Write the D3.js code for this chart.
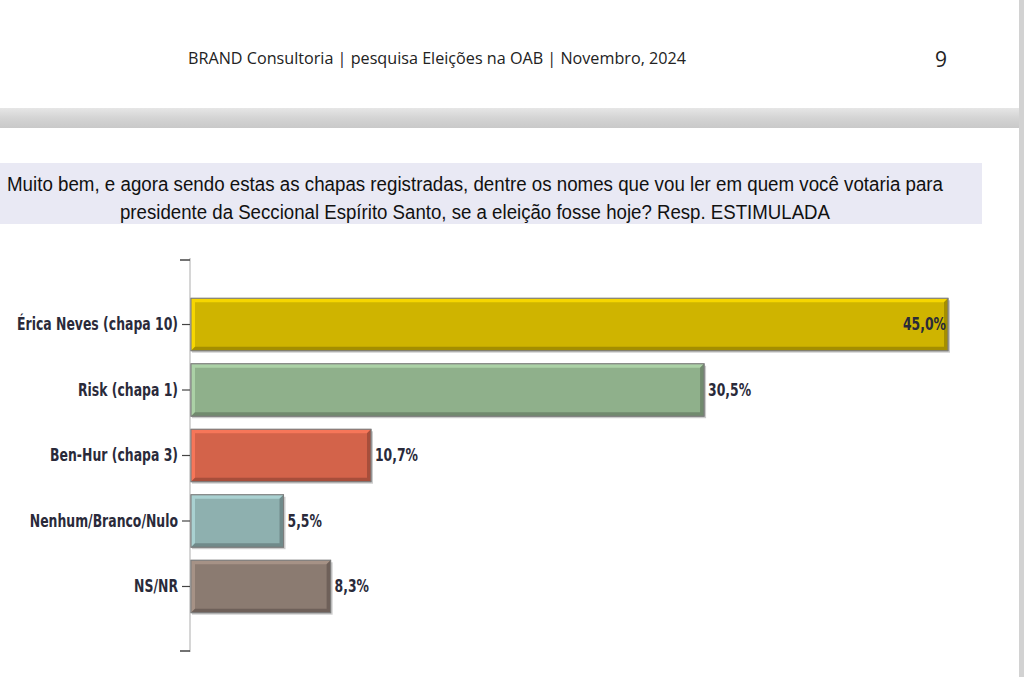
<!DOCTYPE html>
<html>
<head>
<meta charset="utf-8">
<script src="https://cdn.jsdelivr.net/npm/d3@7"></script>
<style>
  html, body { margin: 0; padding: 0; background: #fff; }
  svg { display: block; }
</style>
</head>
<body>
<svg id="chart" width="1024" height="677"></svg>
<script>
// data
var categories = ["Érica Neves (chapa 10)", "Risk (chapa 1)", "Ben-Hur (chapa 3)", "Nenhum/Branco/Nulo", "NS/NR"];
var values = [45.0, 30.5, 10.7, 5.5, 8.3];
var valueLabels = ["45,0%", "30,5%", "10,7%", "5,5%", "8,3%"];
var barColors = ["#cfb400", "#8fb08b", "#d3634a", "#8eb0af", "#8b7b71"];

var headerText = "BRAND Consultoria | pesquisa Eleições na OAB | Novembro, 2024";
var pageNumber = "9";
var questionLines = [
  "Muito bem, e agora sendo estas as chapas registradas, dentre os nomes que vou ler em quem você votaria para",
  "presidente da Seccional Espírito Santo, se a eleição fosse hoje? Resp. ESTIMULADA"
];

var svg = d3.select("#chart");
var defs = svg.append("defs");

// squeeze a text selection horizontally so the reference text fits (condensed face)
function squeeze(sel, k) {
  sel.each(function() {
    var w = this.getComputedTextLength();
    d3.select(this).attr("textLength", w * k).attr("lengthAdjust", "spacingAndGlyphs");
  });
}

// page chrome
var band = defs.append("linearGradient").attr("id", "band").attr("x1", 0).attr("x2", 0).attr("y1", 0).attr("y2", 1);
band.append("stop").attr("offset", "0").attr("stop-color", "#e6e6e6");
band.append("stop").attr("offset", "0.5").attr("stop-color", "#d4d4d4");
band.append("stop").attr("offset", "1").attr("stop-color", "#c9c9c9");
svg.append("rect").attr("x", 0).attr("y", 108).attr("width", 1024).attr("height", 20).attr("fill", "url(#band)");
svg.append("rect").attr("x", 1019).attr("y", 0).attr("width", 5).attr("height", 677).attr("fill", "#d2d2d2");

svg.append("text")
  .attr("x", 437).attr("y", 64)
  .attr("text-anchor", "middle")
  .attr("font-family", "'Open Sans', sans-serif")
  .attr("font-size", 16.5)
  .attr("textLength", 498).attr("lengthAdjust", "spacingAndGlyphs")
  .attr("fill", "#222")
  .text(headerText);
svg.append("text")
  .attr("x", 941).attr("y", 67)
  .attr("text-anchor", "middle")
  .attr("font-family", "'Open Sans', sans-serif")
  .attr("font-size", 21)
  .attr("fill", "#222")
  .text(pageNumber);

// question box
svg.append("rect").attr("x", 0).attr("y", 163).attr("width", 982).attr("height", 61).attr("fill", "#e9e9f4");
var qWidths = [936, 710];
svg.selectAll("text.q").data(questionLines).join("text")
  .attr("class", "q")
  .attr("x", 475)
  .attr("y", function(d, i) { return 191 + i * 28; })
  .attr("text-anchor", "middle")
  .attr("font-family", "'Liberation Sans Narrow', 'Liberation Sans', sans-serif")
  .attr("font-size", 20)
  .attr("textLength", function(d, i) { return qWidths[i]; })
  .attr("lengthAdjust", "spacingAndGlyphs")
  .attr("fill", "#111")
  .text(function(d) { return d; });

// scales
var x = d3.scaleLinear().domain([0, 45]).range([191, 948]);
var y = d3.scaleBand().domain(categories).range([260, 651]).paddingInner(0.2).paddingOuter(0.585);

var labelFont = "'DejaVu Sans', sans-serif";

// axis
var axisG = svg.append("g").attr("transform", "translate(190,0)");
axisG.append("line").attr("x1", 0).attr("x2", 0).attr("y1", 258).attr("y2", 652).attr("stroke", "#c8c8c8").attr("stroke-width", 1.5);
axisG.selectAll("line.end").data([260, 651]).join("line")
  .attr("class", "end")
  .attr("x1", -10).attr("x2", 0)
  .attr("y1", function(d) { return d; }).attr("y2", function(d) { return d; })
  .attr("stroke", "#444").attr("stroke-width", 1.5);

var yAxis = d3.axisLeft(y).tickSize(8).tickPadding(4);
var yg = svg.append("g").attr("transform", "translate(190,0)").call(yAxis);
yg.select(".domain").remove();
yg.selectAll(".tick line").attr("stroke", "#444").attr("stroke-width", 1.2);
var tickText = yg.selectAll(".tick text")
  .attr("font-family", labelFont)
  .attr("font-weight", "bold")
  .attr("font-size", 18)
  .attr("fill", "#2a2a3a");
var firstW = tickText.node().getComputedTextLength();
squeeze(tickText, 161 / firstW);

// bars with a bevel look
var bars = svg.append("g").selectAll("g.bar").data(categories).join("g").attr("class", "bar");
bars.each(function(c, i) {
  var g = d3.select(this);
  var x0 = x(0), x1 = x(values[i]), y0 = y(c), h = y.bandwidth(), w = x1 - x0;
  var col = d3.color(barColors[i]);
  // drop shadow
  g.append("rect").attr("x", x0 + 1).attr("y", y0 + 2).attr("width", w + 1).attr("height", h)
    .attr("fill", "#9a9a9a").attr("opacity", 0.5);
  g.append("rect").attr("x", x0).attr("y", y0).attr("width", w).attr("height", h)
    .attr("fill", col.formatHex()).attr("stroke", "#8a8a8a").attr("stroke-width", 1);
  // light top/left bevel
  g.append("path")
    .attr("d", "M" + x0 + "," + (y0 + h) + "V" + y0 + "H" + x1 + "L" + (x1 - 4) + "," + (y0 + 4) + "H" + (x0 + 4) + "V" + (y0 + h - 4) + "Z")
    .attr("fill", col.brighter(0.6).formatHex()).attr("opacity", 0.8);
  // dark bottom/right bevel
  g.append("path")
    .attr("d", "M" + x1 + "," + y0 + "V" + (y0 + h) + "H" + x0 + "L" + (x0 + 4) + "," + (y0 + h - 4) + "H" + (x1 - 4) + "V" + (y0 + 4) + "Z")
    .attr("fill", col.darker(0.8).formatHex()).attr("opacity", 0.85);
  g.append("rect").attr("x", x0).attr("y", y0).attr("width", w).attr("height", h)
    .attr("fill", "none").attr("stroke", "#7d7d7d").attr("stroke-width", 1);
});

// value labels
var valText = svg.append("g").selectAll("text").data(categories).join("text")
  .attr("x", function(c, i) { return i === 0 ? x(values[i]) - 2 : x(values[i]) + 4; })
  .attr("y", function(c) { return y(c) + y.bandwidth() / 2; })
  .attr("dy", "0.35em")
  .attr("text-anchor", function(c, i) { return i === 0 ? "end" : "start"; })
  .attr("font-family", labelFont)
  .attr("font-weight", "bold")
  .attr("font-size", 17)
  .attr("fill", "#2a2a3a")
  .text(function(c, i) { return valueLabels[i]; });
squeeze(valText, 43 / valText.filter(function(c, i) { return i === 1; }).node().getComputedTextLength());
</script>
</body>
</html>
